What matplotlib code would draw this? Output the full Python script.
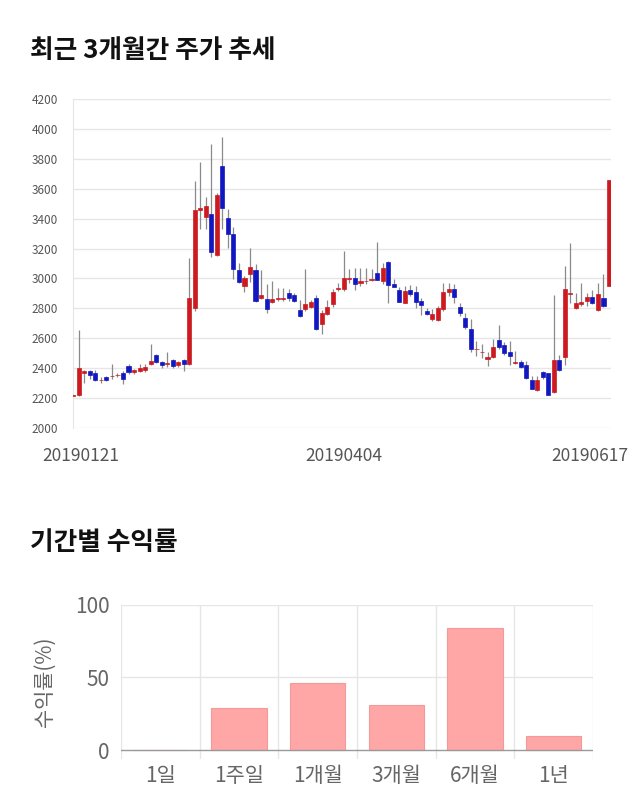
import numpy as np
import matplotlib
matplotlib.use("Agg")
from matplotlib import pyplot as plt
from matplotlib import transforms

plt.rcParams['font.family'] = ['Noto Sans CJK KR', 'DejaVu Sans']

# daily candles, 20190121 .. 20190617
opens = [2215, 2222, 2371, 2378, 2371, 2318, 2344, 2347, 2354, 2371,
         2416, 2376, 2382, 2388, 2430, 2488, 2439, 2428, 2453, 2421,
         2455, 2430, 2801, 3460, 3413, 3433, 3159, 3751, 3402, 3295,
         3058, 2950, 3033, 3058, 2871, 2864, 2845, 2865, 2862, 2904,
         2889, 2789, 2793, 2809, 2871, 2698, 2765, 2827, 2929, 2927,
         2998, 3004, 2967, 2980, 2988, 3038, 2982, 3111, 2964, 2922,
         2838, 2922, 2911, 2849, 2782, 2731, 2722, 2793, 2911, 2931,
         2809, 2738, 2664, 2525, 2507, 2460, 2478, 2587, 2553, 2509,
         2436, 2440, 2418, 2319, 2252, 2373, 2369, 2241, 2453, 2476,
         2893, 2804, 2827, 2849, 2878, 2789, 2871, 2950]
highs = [2225, 2653, 2390, 2385, 2385, 2340, 2350, 2427, 2370, 2382,
         2427, 2393, 2427, 2430, 2562, 2495, 2445, 2510, 2460, 2450,
         2460, 3140, 3650, 3778, 3543, 3900, 3570, 3945, 3465, 3346,
         3100, 3018, 3203, 3096, 3056, 2960, 2982, 2938, 2938, 2927,
         2900, 2856, 3060, 2856, 2887, 2787, 2853, 2931, 2971, 3185,
         3060, 3071, 3071, 3071, 3065, 3242, 3100, 3120, 2995, 2944,
         2951, 2953, 2949, 2871, 2804, 2793, 2813, 2967, 2967, 2964,
         2833, 2771, 2727, 2582, 2560, 2509, 2593, 2687, 2575, 2580,
         2514, 2458, 2447, 2346, 2346, 2380, 2369, 2887, 2491, 3083,
         3240, 2905, 2967, 2900, 2920, 2972, 3028, 3660]
lows = [2212, 2215, 2304, 2330, 2314, 2298, 2314, 2328, 2338, 2293,
        2360, 2360, 2372, 2375, 2420, 2432, 2399, 2410, 2400, 2410,
        2383, 2420, 2783, 3330, 3330, 3145, 3150, 3330, 3203, 2995,
        2970, 2910, 2973, 2845, 2860, 2771, 2835, 2850, 2850, 2850,
        2840, 2740, 2782, 2800, 2656, 2631, 2755, 2811, 2915, 2915,
        2971, 2922, 2950, 2960, 2982, 2990, 2960, 2838, 2940, 2840,
        2835, 2880, 2800, 2753, 2753, 2715, 2715, 2785, 2880, 2838,
        2751, 2665, 2510, 2482, 2470, 2416, 2470, 2527, 2490, 2422,
        2427, 2400, 2329, 2258, 2245, 2325, 2218, 2235, 2380, 2424,
        2838, 2798, 2816, 2816, 2829, 2782, 2811, 2950]
closes = [2222, 2400, 2382, 2356, 2320, 2322, 2320, 2351, 2357, 2331,
          2376, 2387, 2398, 2410, 2450, 2439, 2421, 2432, 2415, 2443,
          2425, 2866, 3460, 3470, 3483, 3174, 3560, 3469, 3297, 3062,
          2978, 3004, 3076, 2848, 2887, 2793, 2864, 2869, 2868, 2871,
          2849, 2749, 2827, 2842, 2664, 2767, 2811, 2909, 2933, 3004,
          3004, 2964, 2982, 2984, 2995, 2993, 3071, 2953, 2944, 2842,
          2916, 2893, 2842, 2822, 2760, 2760, 2800, 2911, 2931, 2876,
          2771, 2678, 2527, 2529, 2511, 2478, 2544, 2544, 2504, 2482,
          2438, 2409, 2335, 2264, 2319, 2342, 2223, 2453, 2391, 2932,
          2903, 2838, 2844, 2878, 2838, 2894, 2815, 3660]
date_ticks = [0, 49, 97]
date_labels = ['20190121', '20190404', '20190617']

periods = ['1일', '1주일', '1개월', '3개월', '6개월', '1년']
returns = [0, 28.8, 45.9, 31.0, 84.2, 9.8]

fig = plt.figure(figsize=(6.4, 8.1), dpi=100)

fig.text(30 / 640, 1 - 51 / 810, '최근 3개월간 주가 추세', fontsize=18.5,
         fontweight='bold', va='center', ha='left', color='#111111')
fig.text(30 / 640, 1 - 543 / 810, '기간별 수익률', fontsize=18.5,
         fontweight='bold', va='center', ha='left', color='#111111')

# candle chart
ax = fig.add_axes([73 / 640, 382 / 810, 538 / 640, 329 / 810])
o = np.array(opens)
h = np.array(highs)
l = np.array(lows)
c = np.array(closes)
x = np.arange(len(o))
up = c >= o
colors = np.where(up, '#cc1a20', '#1218bf')
ax.vlines(x, l, h, color='#8a8a8a', linewidth=0.9, zorder=2)
ax.bar(x, np.abs(c - o), bottom=np.minimum(o, c), width=0.74,
       color=colors, edgecolor=colors, linewidth=0.5, zorder=3)

ax.set_xlim(-0.05, 97.36)
ax.set_ylim(2000, 4200)
ax.set_yticks(np.arange(2000, 4201, 200))
ax.grid(axis='y', color='#e6e6e6', linewidth=1)
ax.set_axisbelow(True)
for s in ['top', 'right', 'bottom']:
    ax.spines[s].set_visible(False)
ax.spines['left'].set_color('#e6e6e6')
ax.tick_params(axis='y', length=0, pad=11, labelsize=8.5, labelcolor='#555555')
ax.tick_params(axis='x', length=0, pad=14, labelsize=12.5, labelcolor='#555555')
ax.set_xticks(date_ticks)
ax.set_xticklabels(date_labels)
shifts = [8, 0, -19]
for lab, dx in zip(ax.get_xticklabels(), shifts):
    lab.set_transform(lab.get_transform() +
                      transforms.ScaledTranslation(dx / 100, 0, fig.dpi_scale_trans))

# returns bar chart
ax2 = fig.add_axes([121 / 640, 51 / 810, 472 / 640, 154.5 / 810])
xb = np.arange(len(periods))
ax2.bar(xb, returns, width=0.7, color='#ffa6a6', edgecolor='#f29a9a',
        linewidth=0.8, zorder=3)
ax2.set_xlim(-0.5, len(periods) - 0.5)
ax2.set_ylim(-6, 100)
ax2.set_yticks([0, 50, 100])
ax2.set_xticks(xb)
ax2.set_xticklabels(periods)
for xv in np.arange(-0.5, len(periods), 1):
    ax2.axvline(xv, color='#e6e6e6', linewidth=1, zorder=1)
for yv in [50, 100]:
    ax2.axhline(yv, color='#e6e6e6', linewidth=1, zorder=1)
ax2.axhline(0, color='#999999', linewidth=1, zorder=4)
for s in ax2.spines.values():
    s.set_visible(False)
ax2.tick_params(length=0, labelsize=15, labelcolor='#666666')
ax2.tick_params(axis='y', pad=8)
ax2.tick_params(axis='x', pad=4)
ax2.set_ylabel('수익률(%)', fontsize=15, color='#666666', labelpad=14)

fig.savefig('out.png', dpi=100)
